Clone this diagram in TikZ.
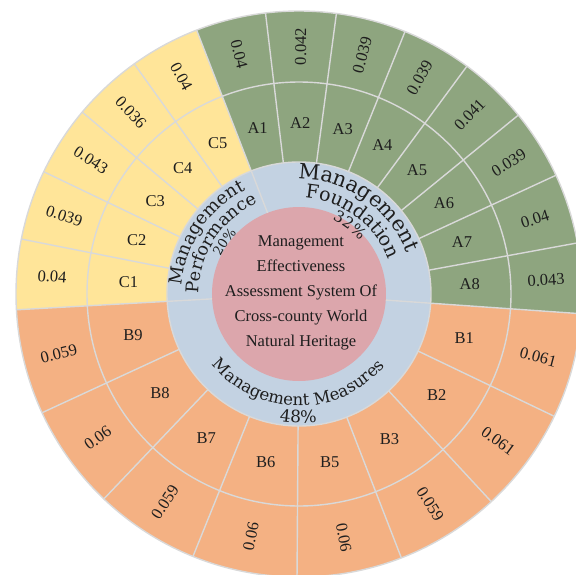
\documentclass[tikz,border=0pt]{standalone}
\usepackage{fontspec}
\setmainfont{Liberation Serif}
\newfontfamily\arcfont{DejaVu Serif}
\usetikzlibrary{decorations.text}
\definecolor{cA}{HTML}{8EA57F}
\definecolor{cB}{HTML}{F4B183}
\definecolor{cC}{HTML}{FFE599}
\definecolor{cRing}{HTML}{C3D2E2}
\definecolor{cCore}{HTML}{DCA6AC}
\definecolor{cSep}{HTML}{D9D9D9}
\definecolor{cText}{HTML}{1E1E1E}
\tikzset{
  sepline/.style={draw=cSep, line width=1.4pt},
  celllabel/.style={text=cText, font=\fontsize{16.5}{18}\selectfont, inner sep=0pt},
  cellvalue/.style={text=cText, font=\fontsize{16.5}{18}\selectfont, inner sep=0pt},
  coretext/.style={text=cText, align=center, font=\fontsize{16.5}{25}\selectfont, inner sep=0pt},
  arctext/.style={decorate, decoration={text along path, text align=center, text color=cText, text={#1}}},
}
\begin{document}
\begin{tikzpicture}[x=1pt,y=1pt]
\useasboundingbox (-299,-280) rectangle (277,294);
\clip (-299,-280) rectangle (277,294);
% inner rings
\fill[cRing] (0,0) circle[radius=132pt];
\fill[cCore] (0,0) circle[radius=87pt];
% cells
\foreach \s/\e/\c in {-4/10.4/cA, 10.4/24.8/cA, 24.8/39.2/cA, 39.2/53.6/cA, 53.6/68/cA, 68/82.4/cA, 82.4/96.8/cA, 96.8/111.2/cA,
  111.2/125.6/cC, 125.6/140/cC, 140/154.4/cC, 154.4/168.8/cC, 168.8/183.2/cC,
  183.2/204.8/cB, 204.8/226.4/cB, 226.4/248/cB, 248/269.6/cB, 269.6/291.2/cB, 291.2/312.8/cB, 312.8/334.4/cB, 334.4/356/cB}{
  \fill[\c] (\s:132pt) arc[start angle=\s, end angle=\e, radius=132pt] -- (\e:283pt) arc[start angle=\e, end angle=\s, radius=283pt] -- cycle;
}
% separators
\foreach \a in {-4,10.4,24.8,39.2,53.6,68,82.4,96.8,111.2,125.6,140,154.4,168.8,183.2,204.8,226.4,248,269.6,291.2,312.8,334.4}{
  \draw[sepline] (\a:132pt) -- (\a:283pt);
}
\foreach \a in {-4,111.2,183.2}{
  \draw[sepline] (\a:87pt) -- (\a:132pt);
}
\draw[sepline] (0,0) circle[radius=132pt];
\draw[sepline] (0,0) circle[radius=212pt];
\draw[sepline] (0,0) circle[radius=283pt];
% labels and values
\foreach \s/\e/\lab/\val in {-4/10.4/A8/0.043, 10.4/24.8/A7/0.04, 24.8/39.2/A6/0.039, 39.2/53.6/A5/0.041, 53.6/68/A4/0.039, 68/82.4/A3/0.039, 82.4/96.8/A2/0.042, 96.8/111.2/A1/0.04,
  111.2/125.6/C5/0.04, 125.6/140/C4/0.036, 140/154.4/C3/0.043, 154.4/168.8/C2/0.039, 168.8/183.2/C1/0.04,
  183.2/204.8/B9/0.059, 204.8/226.4/B8/0.06, 226.4/248/B7/0.059, 248/269.6/B6/0.06, 269.6/291.2/B5/0.06, 291.2/312.8/B3/0.059, 312.8/334.4/B2/0.061, 334.4/356/B1/0.061}{
  \pgfmathsetmacro\m{(\s+\e)/2}
  \pgfmathsetmacro\rot{cos(\m)>=0 ? \m : \m+180}
  \node[celllabel] (lab\lab) at (\m:171pt) {\lab};
  \node[cellvalue, rotate=\rot] (val\lab) at (\m:247.5pt) {\val};
}
% centre text
\node[coretext] (core) at (2,1) {Management\\Effectiveness\\Assessment System Of\\Cross-county World\\Natural Heritage};
% curved group labels
\path[arctext={|\arcfont\fontsize{21}{21}\selectfont|Management}] (115.5:115pt) arc[start angle=115.5, end angle=-4.5, radius=115pt];
\path[arctext={|\arcfont\fontsize{19}{19}\selectfont|Foundation}] (113.6:96pt) arc[start angle=113.6, end angle=-6.4, radius=96pt];
\path[arctext={|\arcfont\fontsize{15.5}{15.5}\selectfont|32{\%}}] (113.6:81pt) arc[start angle=113.6, end angle=-6.4, radius=81pt];
\path[arctext={|\arcfont\fontsize{18}{18}\selectfont|Management}] (206.5:117pt) arc[start angle=206.5, end angle=86.5, radius=117pt];
\path[arctext={|\arcfont\fontsize{17.5}{17.5}\selectfont|Performance}] (207.2:100pt) arc[start angle=207.2, end angle=87.2, radius=100pt];
\path[arctext={|\arcfont\fontsize{13}{13}\selectfont|20{\%}}] (205:87pt) arc[start angle=205, end angle=85, radius=87pt];
\path[arctext={|\arcfont\fontsize{16.5}{16.5}\selectfont|Management Measures}] (199.6:112pt) arc[start angle=199.6, end angle=339.6, radius=112pt];
\path[arctext={|\arcfont\fontsize{17}{17}\selectfont|48{\%}}] (229.6:129pt) arc[start angle=229.6, end angle=309.6, radius=129pt];
\end{tikzpicture}
\end{document}
